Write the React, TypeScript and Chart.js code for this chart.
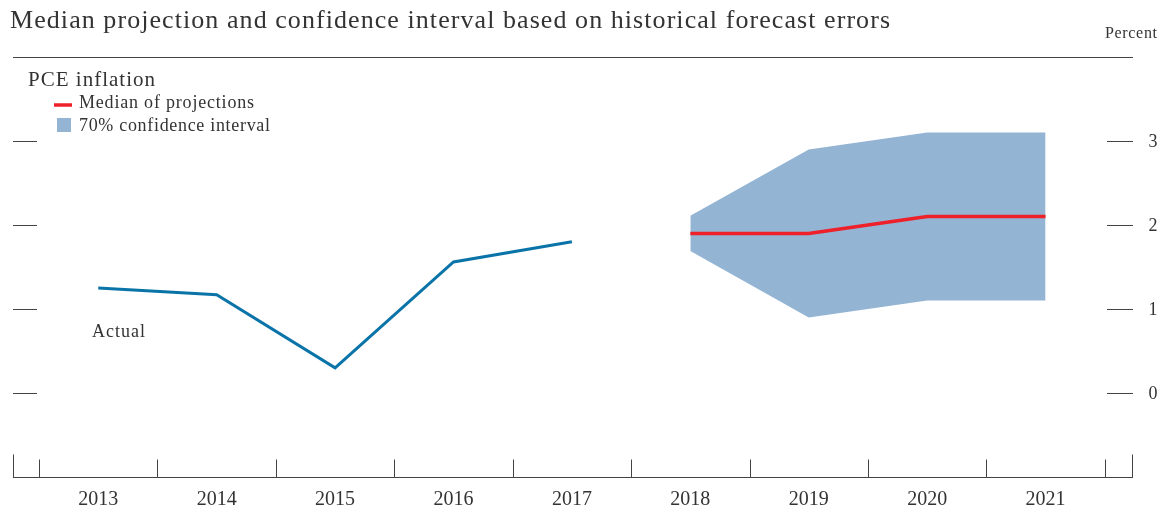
import React, { useEffect, useRef } from "react";
import { Chart, registerables } from "chart.js";

Chart.register(...registerables);

const actualYears = [2013, 2014, 2015, 2016, 2017];
const actualValues = [1.25, 1.17, 0.3, 1.56, 1.8];
const projYears = [2018, 2019, 2020, 2021];
const medianValues = [1.9, 1.9, 2.1, 2.1];
const ciUpper = [2.11, 2.9, 3.1, 3.1];
const ciLower = [1.69, 0.9, 1.1, 1.1];
const yTicks = [0, 1, 2, 3];
const xLabels = [2013, 2014, 2015, 2016, 2017, 2018, 2019, 2020, 2021];

const TITLE = "Median projection and confidence interval based on historical forecast errors";
const SERIF = '"Liberation Serif", "DejaVu Serif", serif';
const INK = "#333333";
const BLUE = "#0A74A8";
const RED = "#EE2029";
const FILL = "#94B4D4";

// draw text so that it spans a given width by adjusting letter spacing
function fitText(
  ctx: CanvasRenderingContext2D,
  text: string,
  x: number,
  y: number,
  size: number,
  width: number,
  align: "left" | "right" = "left"
) {
  ctx.font = `${size}px ${SERIF}`;
  (ctx as any).letterSpacing = "0px";
  const w = ctx.measureText(text).width;
  const ls = Math.max(0, (width - w) / Math.max(1, text.length - 1));
  (ctx as any).letterSpacing = `${ls}px`;
  ctx.textAlign = "left";
  const sx = align === "left" ? x : x - width;
  ctx.fillText(text, sx, y);
  (ctx as any).letterSpacing = "0px";
}

const decorPlugin = {
  id: "decor",
  afterDraw(chart: any) {
    const ctx = chart.ctx as CanvasRenderingContext2D;
    const xs = chart.scales.x;
    const ys = chart.scales.y;
    const area = chart.chartArea;
    ctx.save();
    ctx.fillStyle = INK;
    ctx.strokeStyle = "#444";
    ctx.lineWidth = 1;
    ctx.textBaseline = "alphabetic";

    // title
    fitText(ctx, TITLE, 10, 28, 26, 880);
    // Percent
    fitText(ctx, "Percent", 1157, 38, 16, 52, "right");
    // top rule
    ctx.beginPath();
    ctx.moveTo(area.left, area.top + 0.5);
    ctx.lineTo(area.right + 1, area.top + 0.5);
    ctx.stroke();

    // y ticks
    ctx.font = `18px ${SERIF}`;
    ctx.textAlign = "center";
    ctx.textBaseline = "middle";
    for (const v of yTicks) {
      const y = Math.round(ys.getPixelForValue(v)) + 0.5;
      ctx.beginPath();
      ctx.moveTo(area.left, y);
      ctx.lineTo(area.left + 24, y);
      ctx.moveTo(area.right - 25, y);
      ctx.lineTo(area.right + 1, y);
      ctx.stroke();
      ctx.fillText(String(v), 1153, y + 1);
    }

    // x axis
    const base = Math.round(area.bottom) + 0.5;
    ctx.beginPath();
    ctx.moveTo(area.left, base);
    ctx.lineTo(area.right + 1, base);
    ctx.moveTo(area.left + 0.5, base);
    ctx.lineTo(area.left + 0.5, base - 23);
    ctx.moveTo(area.right + 0.5, base);
    ctx.lineTo(area.right + 0.5, base - 23);
    for (let i = 0; i <= xLabels.length; i++) {
      const x = Math.round(xs.getPixelForValue(xLabels[0] - 0.5 + i)) + 0.5;
      ctx.moveTo(x, base);
      ctx.lineTo(x, base - 18);
    }
    ctx.stroke();
    ctx.font = `20px ${SERIF}`;
    ctx.textAlign = "center";
    ctx.textBaseline = "alphabetic";
    for (const yr of xLabels) {
      ctx.fillText(String(yr), xs.getPixelForValue(yr), 505);
    }

    // legend
    fitText(ctx, "PCE inflation", 28, 86, 21, 127);
    fitText(ctx, "Median of projections", 79, 108, 18, 175);
    fitText(ctx, "70% confidence interval", 79, 131, 18, 191);
    ctx.strokeStyle = RED;
    ctx.lineWidth = 3.5;
    ctx.beginPath();
    ctx.moveTo(54, 105);
    ctx.lineTo(72, 105);
    ctx.stroke();
    ctx.fillStyle = FILL;
    ctx.fillRect(57, 118, 14, 14);

    // Actual label
    ctx.fillStyle = INK;
    fitText(ctx, "Actual", 92, 337, 18, 53);
    ctx.restore();
  },
};

export default function App() {
  const ref = useRef<HTMLCanvasElement | null>(null);
  useEffect(() => {
    if (!ref.current) return;
    const chart = new Chart(ref.current, {
      type: "line",
      data: {
        datasets: [
          {
            label: "upper",
            data: projYears.map((x, i) => ({ x, y: ciUpper[i] })),
            borderWidth: 0,
            borderColor: "rgba(0,0,0,0)",
            backgroundColor: FILL,
            pointRadius: 0,
            fill: "+1",
            tension: 0,
            order: 3,
          },
          {
            label: "lower",
            data: projYears.map((x, i) => ({ x, y: ciLower[i] })),
            borderWidth: 0,
            borderColor: "rgba(0,0,0,0)",
            backgroundColor: FILL,
            pointRadius: 0,
            fill: false,
            tension: 0,
            order: 3,
          },
          {
            label: "Median of projections",
            data: projYears.map((x, i) => ({ x, y: medianValues[i] })),
            borderColor: RED,
            borderWidth: 3.5,
            pointRadius: 0,
            fill: false,
            tension: 0,
            order: 1,
          },
          {
            label: "Actual",
            data: actualYears.map((x, i) => ({ x, y: actualValues[i] })),
            borderColor: BLUE,
            borderWidth: 3,
            pointRadius: 0,
            fill: false,
            tension: 0,
            order: 2,
          },
        ],
      },
      options: {
        animation: false,
        responsive: false,
        maintainAspectRatio: false,
        layout: { padding: { left: 13, right: 34, top: 57, bottom: 35 } },
        plugins: { legend: { display: false }, tooltip: { enabled: false }, title: { display: false } },
        scales: {
          x: { type: "linear", min: 2012.28, max: 2021.73, display: false },
          y: { type: "linear", min: -1, max: 4, display: false },
        },
        elements: { line: { borderCapStyle: "butt", borderJoinStyle: "miter" } },
      },
      plugins: [decorPlugin],
    });
    return () => chart.destroy();
  }, []);
  return (
    <div style={{ position: "fixed", left: 0, top: 0, width: 1166, height: 512, background: "#fff" }}>
      <canvas ref={ref} width={1166} height={512} style={{ display: "block" }} />
    </div>
  );
}
